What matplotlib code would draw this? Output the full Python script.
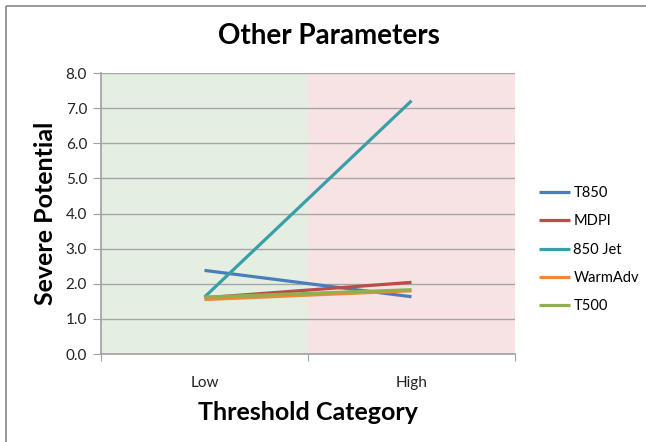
import matplotlib.pyplot as plt
from matplotlib.lines import Line2D

categories = ["Low", "High"]
series_names = ["T850", "MDPI", "850 Jet", "WarmAdv", "T500"]
t850 = [2.38, 1.63]
mdpi = [1.60, 2.04]
jet850 = [1.62, 7.21]
warmadv = [1.55, 1.80]
t500 = [1.62, 1.83]
colors = ["#4a7ebb", "#be4b48", "#3a9ea8", "#f0883c", "#8fb04e"]

plt.rcParams["font.family"] = ["Lato", "DejaVu Sans"]

fig = plt.figure(figsize=(6.46, 4.42), dpi=100)
ax = fig.add_axes([101 / 646, 1 - 354 / 442, 414 / 646, 281 / 442])

# background bands for the two categories
ax.axvspan(-0.5, 0.5, color="#e4efe2", zorder=0)
ax.axvspan(0.5, 1.5, color="#f8e3e4", zorder=0)

x = range(len(categories))
for vals, name, c in zip([t850, mdpi, jet850, warmadv, t500], series_names, colors):
    ax.plot(x, vals, color=c, lw=2.3, label=name, zorder=3, solid_capstyle="butt")

ax.set_xlim(-0.5, 1.5)
ax.set_ylim(0, 8)
ax.set_yticks(range(0, 9))
ax.set_yticklabels([f"{v:.1f}" for v in range(0, 9)], fontsize=11, color="#222222")
ax.set_xticks([-0.5, 0.5, 1.5])
ax.set_xticklabels([])
ax.set_xticks([0, 1], minor=True)
ax.set_xticklabels(categories, minor=True, fontsize=11, color="#222222")
ax.tick_params(axis="x", which="minor", length=0, pad=16)
ax.tick_params(axis="x", which="major", length=5, color="#a0a0a0", direction="out")
ax.tick_params(axis="y", length=6, color="#a0a0a0", direction="out", pad=4)

ax.grid(axis="y", color="#a6a6a6", lw=1, zorder=1)
ax.set_axisbelow(True)
for side in ["top", "right"]:
    ax.spines[side].set_visible(False)
for side in ["left", "bottom"]:
    ax.spines[side].set_color("#a0a0a0")
    ax.spines[side].set_linewidth(1.2)

ax.set_xlabel("Threshold Category", fontsize=18, fontweight="bold", labelpad=8)
ax.set_ylabel("Severe Potential", fontsize=18, fontweight="bold", labelpad=6)
fig.text(329 / 646, 1 - 36 / 442, "Other Parameters", fontsize=20, fontweight="bold",
         ha="center", va="center")

ax.legend(loc="upper left", bbox_to_anchor=(526 / 646, 1 - 173 / 442),
          bbox_transform=fig.transFigure, frameon=False, fontsize=10.5,
          handlelength=2.1, handletextpad=0.25, labelspacing=0.98)

# outer chart frame (only left and top edges visible)
fx, fy = 5.5 / 646, 1 - 5.5 / 442
fig.add_artist(Line2D([fx, fx], [0, fy], transform=fig.transFigure, color="#888888",
                      lw=1.2, solid_capstyle="butt"))
fig.add_artist(Line2D([fx, 1], [fy, fy], transform=fig.transFigure, color="#888888",
                      lw=1.2, solid_capstyle="butt"))

fig.savefig("out.png", dpi=100)
